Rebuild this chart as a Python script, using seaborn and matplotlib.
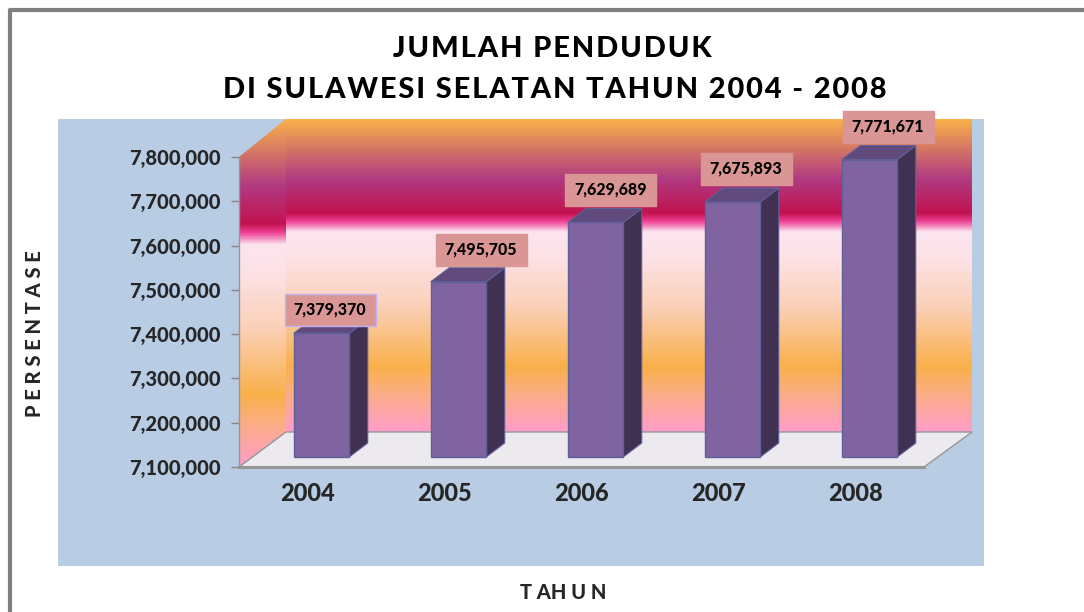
import numpy as np
import pandas as pd
import seaborn as sns
import matplotlib.pyplot as plt
from matplotlib.colors import LinearSegmentedColormap
from matplotlib.patches import Polygon, Rectangle
from matplotlib.transforms import Affine2D, IdentityTransform

tahun = ["2004", "2005", "2006", "2007", "2008"]
penduduk = [7379370, 7495705, 7629689, 7675893, 7771671]
label_penduduk = ["7,379,370", "7,495,705", "7,629,689", "7,675,893", "7,771,671"]
y_ticks = [7100000, 7200000, 7300000, 7400000, 7500000, 7600000, 7700000, 7800000]

judul_1 = "JUMLAH PENDUDUK"
judul_2 = "DI SULAWESI SELATAN TAHUN 2004 - 2008"
x_judul = "TAHUN"
y_judul = "PERSENTASE"

# label boxes were dragged by hand in the original, offset from the bar top (px)
label_dx = [8.5, 22.5, 15, 13.5, 18.5]
label_dy = [23.5, 32, 32.5, 33, 33]

sns.set_theme(style="white")
plt.rcParams["font.family"] = ["Lato", "DejaVu Sans"]
BOLD = 900
W, H = 1084, 612


def spaced(s, sep="\u200a"):
    return sep.join(s)


fig = plt.figure(figsize=(W / 100, H / 100), dpi=100, facecolor="white")

# pixel canvas behind the chart for the fake 3D walls
bg = fig.add_axes([0, 0, 1, 1])
bg.set_axis_off()
bg.add_patch(Rectangle((58, 119), 926, 447, color="#B8CCE4", lw=0, zorder=0))
bg.plot([10, 10, W], [H, 10, 10], color="#7F7F7F", lw=3, zorder=1, solid_joinstyle="round")

stops = [(0, "#F9B04A"), (0.19, "#B03A82"), (0.30, "#C2134F"), (0.325, "#EE3F93"),
         (0.36, "#FCE5F0"), (0.44, "#FDE2E6"), (0.60, "#FBD0B8"), (0.795, "#F9B04A"),
         (0.87, "#FBAE80"), (1, "#FF9EC8")]
cmap = LinearSegmentedColormap.from_list("wall", stops)
grad = np.linspace(0, 1, 400).reshape(-1, 1)
bg.imshow(grad, cmap=cmap, extent=(286, 972, 432, 119), aspect="auto", zorder=1)
side = bg.imshow(grad, cmap=cmap, extent=(239, 286, 467, 119), aspect="auto", zorder=1)
side_poly = Polygon([(239, 157), (286, 119), (286, 432), (239, 467)], transform=bg.transData)
side.set_clip_path(side_poly)
bg.add_patch(Polygon([(239, 467), (286, 432), (972, 432), (924, 467)], color="#ECEAEF", lw=0, zorder=2))
bg.plot([239, 286, 972, 924], [467, 432, 432, 467], color="#969696", lw=1, zorder=3)
bg.set_xlim(0, W)
bg.set_ylim(H, 0)

bg.text(552.5, 49, spaced(judul_1), ha="center", va="center", fontsize=20.9, color="black", fontweight=BOLD)
bg.text(554.5, 90, spaced(judul_2), ha="center", va="center", fontsize=20.9, color="black", fontweight=BOLD)

# chart front plane
ax = fig.add_axes([239 / W, 1 - 467 / H, 685 / W, 310 / H])
ax.patch.set_alpha(0)
df = pd.DataFrame({"tahun": tahun, "penduduk": penduduk})
sns.barplot(data=df, x="tahun", y="penduduk", ax=ax, color="#8064A2", saturation=1,
            width=0.405, edgecolor="#5F6099", linewidth=1)
ax.set_xlim(-0.5, 4.5)
ax.set_ylim(y_ticks[0], y_ticks[-1])
ax.set_yticks(y_ticks)
ax.set_yticklabels([f"{t:,}" for t in y_ticks], fontsize=14.5, fontweight=BOLD)
ax.tick_params(axis="y", length=6, width=1, color="#868686", pad=7.5, left=True)
ax.tick_params(axis="x", length=0, pad=10.5)
ax.set_xticks(range(len(tahun)))
ax.set_xticklabels(tahun, fontsize=17, fontweight=BOLD)
ax.set_xlabel(spaced(x_judul, " ").replace("A H", "AH"), fontsize=14.5, fontweight=BOLD)
ax.set_ylabel(spaced(y_judul, " "), fontsize=14.5, fontweight=BOLD)
ax.xaxis.set_label_coords(563, 583, transform=bg.transData)
ax.yaxis.set_label_coords(44, 334, transform=bg.transData)
for name in ["top", "right"]:
    ax.spines[name].set_visible(False)
ax.spines["left"].set_color("#969696")
ax.spines["left"].set_linewidth(1)
ax.spines["bottom"].set_color("#969696")
ax.spines["bottom"].set_linewidth(2.2)

# bars stand inside the floor, not on the front edge
shift = np.array([14, 10])
depth = np.array([18.5, 14])
base = y_ticks[0]
for i, p in enumerate(ax.patches):
    p.set_height(p.get_height() - base)
    p.set_y(base)
    p.set_transform(ax.transData + Affine2D().translate(*shift))
    p.set_clip_on(False)
    p.set_zorder(4)
    x0, x1 = p.get_x(), p.get_x() + p.get_width()
    lr = ax.transData.transform((x1, base)) + shift
    tl = ax.transData.transform((x0, penduduk[i])) + shift
    tr = ax.transData.transform((x1, penduduk[i])) + shift
    ax.add_patch(Polygon([lr, tr, tr + depth, lr + depth], facecolor="#403152", edgecolor="#5F6099",
                         lw=0.8, transform=IdentityTransform(), clip_on=False, zorder=3))
    ax.add_patch(Polygon([tl, tr, tr + depth, tl + depth], facecolor="#604A7B", edgecolor="#5F6099",
                         lw=0.8, transform=IdentityTransform(), clip_on=False, zorder=3))
    mid = (tl + tr) / 2 + np.array([label_dx[i], label_dy[i]])
    box = Rectangle(mid - np.array([45.5, 16]), 91, 32, facecolor="#D99694",
                    edgecolor="#BDB5F0" if i == 0 else "#D99694", lw=1,
                    transform=IdentityTransform(), clip_on=False, zorder=5)
    ax.add_patch(box)
    ax.annotate(label_penduduk[i], xy=mid, xycoords="figure pixels", ha="center", va="center",
                fontsize=11.5, color="black", zorder=6, fontweight=BOLD)

fig.savefig("out.png", dpi=100)
